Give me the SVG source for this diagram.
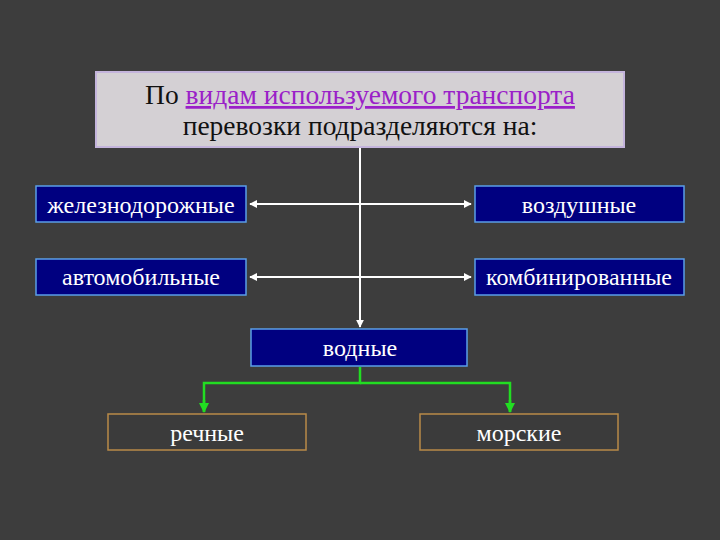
<svg xmlns="http://www.w3.org/2000/svg" width="720" height="540" viewBox="0 0 720 540">
<style>
.t{font-family:"Liberation Serif","Times New Roman",serif;font-size:24px;text-anchor:middle}
.h{font-size:27.5px;fill:#111}
.w{fill:#ffffff}
.blue{fill:#000080;stroke:#5a9ee8;stroke-width:1.5}
.brown{fill:#3b3b3b;stroke:#b98a48;stroke-width:1.5}
.wl{stroke:#ffffff;stroke-width:2;fill:none}
.gl{stroke:#22dd22;stroke-width:2.5;fill:none}
</style>
<defs>
<marker id="aw" viewBox="0 0 10 10" refX="9" refY="5" markerWidth="4" markerHeight="4" orient="auto-start-reverse"><path d="M0,0 L10,5 L0,10 z" fill="#ffffff"/></marker>
<marker id="ag" viewBox="0 0 10 10" refX="9" refY="5" markerWidth="4" markerHeight="4" orient="auto"><path d="M0,0 L10,5 L0,10 z" fill="#22dd22"/></marker>
</defs>
<rect width="720" height="540" fill="#3d3d3d"/>
<g id="connectors">
<line class="wl" x1="360" y1="148" x2="360" y2="327" marker-end="url(#aw)"/>
<line class="wl" x1="250" y1="204" x2="471" y2="204" marker-start="url(#aw)" marker-end="url(#aw)"/>
<line class="wl" x1="250" y1="277" x2="471" y2="277" marker-start="url(#aw)" marker-end="url(#aw)"/>
<path class="gl" d="M360,367 V383 H204 V412"/>
<path class="gl" d="M360,383 H510 V412"/>
<line class="gl" x1="204" y1="400" x2="204" y2="412" marker-end="url(#ag)"/>
<line class="gl" x1="510" y1="400" x2="510" y2="412" marker-end="url(#ag)"/>
</g>
<g id="title">
<rect x="96" y="72" width="528" height="75" fill="#d4d0d4" stroke="#c4b4dc" stroke-width="2"/>
<text class="t h" x="360" y="104">По <tspan fill="#9a20c8" text-decoration="underline">видам используемого транспорта</tspan></text>
<text class="t h" x="360" y="135">перевозки подразделяются на:</text>
</g>
<g id="rail"><rect class="blue" x="36" y="186" width="210" height="36"/><text class="t w" x="141" y="213">железнодорожные</text></g>
<g id="air"><rect class="blue" x="475" y="186" width="209" height="36"/><text class="t w" x="579" y="213">воздушные</text></g>
<g id="auto"><rect class="blue" x="36" y="259" width="210" height="36"/><text class="t w" x="141" y="285">автомобильные</text></g>
<g id="combined"><rect class="blue" x="475" y="259" width="209" height="36"/><text class="t w" x="579" y="285">комбинированные</text></g>
<g id="water"><rect class="blue" x="251" y="329" width="216" height="37"/><text class="t w" x="360" y="356">водные</text></g>
<g id="river"><rect class="brown" x="108" y="414" width="198" height="36"/><text class="t w" x="207" y="441">речные</text></g>
<g id="sea"><rect class="brown" x="420" y="414" width="198" height="36"/><text class="t w" x="519" y="441">морские</text></g>
</svg>
